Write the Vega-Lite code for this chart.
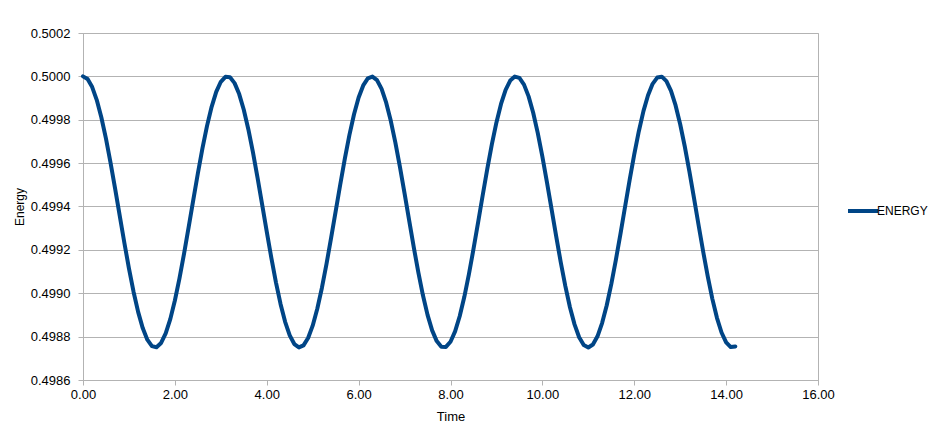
{
  "$schema": "https://vega.github.io/schema/vega-lite/v6.json",
  "width": 735,
  "height": 347,
  "autosize": {"type": "none"},
  "padding": {"left": 83, "top": 33, "right": 120, "bottom": 61},
  "background": "white",
  "config": {
    "font": "Liberation Sans",
    "view": {"stroke": "#b3b3b3", "strokeWidth": 1},
    "axis": {
      "labelFont": "Liberation Sans",
      "titleFont": "Liberation Sans",
      "labelFontSize": 13,
      "titleFontSize": 13,
      "titleFontWeight": "normal",
      "labelColor": "#000000",
      "titleColor": "#000000",
      "domainColor": "#b3b3b3",
      "tickColor": "#b3b3b3",
      "gridColor": "#b3b3b3",
      "gridOpacity": 1,
      "tickSize": 5,
      "labelFlush": false,
      "labelOverlap": false
    }
  },
  "data": {
    "values": [
      {"t": 0.0, "E": 0.5000000}, {"t": 0.1, "E": 0.4999875}, {"t": 0.2, "E": 0.4999507}, {"t": 0.3, "E": 0.4998908},
      {"t": 0.4, "E": 0.4998104}, {"t": 0.5, "E": 0.4997127}, {"t": 0.6, "E": 0.4996015}, {"t": 0.7, "E": 0.4994812},
      {"t": 0.8, "E": 0.4993568}, {"t": 0.9, "E": 0.4992330}, {"t": 1.0, "E": 0.4991149}, {"t": 1.1, "E": 0.4990072},
      {"t": 1.2, "E": 0.4989141}, {"t": 1.3, "E": 0.4988394}, {"t": 1.4, "E": 0.4987861}, {"t": 1.5, "E": 0.4987563},
      {"t": 1.6, "E": 0.4987511}, {"t": 1.7, "E": 0.4987708}, {"t": 1.8, "E": 0.4988145}, {"t": 1.9, "E": 0.4988806},
      {"t": 2.0, "E": 0.4989665}, {"t": 2.1, "E": 0.4990686}, {"t": 2.2, "E": 0.4991829}, {"t": 2.3, "E": 0.4993049},
      {"t": 2.4, "E": 0.4994297}, {"t": 2.5, "E": 0.4995523}, {"t": 2.6, "E": 0.4996678}, {"t": 2.7, "E": 0.4997717},
      {"t": 2.8, "E": 0.4998597}, {"t": 2.9, "E": 0.4999285}, {"t": 3.0, "E": 0.4999751}, {"t": 3.1, "E": 0.4999978},
      {"t": 3.2, "E": 0.4999957}, {"t": 3.3, "E": 0.4999689}, {"t": 3.4, "E": 0.4999184}, {"t": 3.5, "E": 0.4998462},
      {"t": 3.6, "E": 0.4997552}, {"t": 3.7, "E": 0.4996491}, {"t": 3.8, "E": 0.4995320}, {"t": 3.9, "E": 0.4994087},
      {"t": 4.0, "E": 0.4992841}, {"t": 4.1, "E": 0.4991630}, {"t": 4.2, "E": 0.4990504}, {"t": 4.3, "E": 0.4989508},
      {"t": 4.4, "E": 0.4988681}, {"t": 4.5, "E": 0.4988055}, {"t": 4.6, "E": 0.4987657}, {"t": 4.7, "E": 0.4987502},
      {"t": 4.8, "E": 0.4987596}, {"t": 4.9, "E": 0.4987935}, {"t": 5.0, "E": 0.4988506}, {"t": 5.1, "E": 0.4989286},
      {"t": 5.2, "E": 0.4990244}, {"t": 5.3, "E": 0.4991344}, {"t": 5.4, "E": 0.4992541}, {"t": 5.5, "E": 0.4993778},
      {"t": 5.6, "E": 0.4995013}, {"t": 5.7, "E": 0.4996206}, {"t": 5.8, "E": 0.4997302}, {"t": 5.9, "E": 0.4998254},
      {"t": 6.0, "E": 0.4999024}, {"t": 6.1, "E": 0.4999582}, {"t": 6.2, "E": 0.4999908}, {"t": 6.3, "E": 0.4999991},
      {"t": 6.4, "E": 0.4999830}, {"t": 6.5, "E": 0.4999422}, {"t": 6.6, "E": 0.4998787}, {"t": 6.7, "E": 0.4997951},
      {"t": 6.8, "E": 0.4996948}, {"t": 6.9, "E": 0.4995818}, {"t": 7.0, "E": 0.4994605}, {"t": 7.1, "E": 0.4993358},
      {"t": 7.2, "E": 0.4992126}, {"t": 7.3, "E": 0.4990959}, {"t": 7.4, "E": 0.4989904}, {"t": 7.5, "E": 0.4989002},
      {"t": 7.6, "E": 0.4988289}, {"t": 7.7, "E": 0.4987794}, {"t": 7.8, "E": 0.4987536}, {"t": 7.9, "E": 0.4987526},
      {"t": 8.0, "E": 0.4987765}, {"t": 8.1, "E": 0.4988241}, {"t": 8.2, "E": 0.4988938}, {"t": 8.3, "E": 0.4989826},
      {"t": 8.4, "E": 0.4990871}, {"t": 8.5, "E": 0.4992030}, {"t": 8.6, "E": 0.4993258}, {"t": 8.7, "E": 0.4994506},
      {"t": 8.8, "E": 0.4995723}, {"t": 8.9, "E": 0.4996862}, {"t": 9.0, "E": 0.4997877}, {"t": 9.1, "E": 0.4998727},
      {"t": 9.2, "E": 0.4999379}, {"t": 9.3, "E": 0.4999806}, {"t": 9.4, "E": 0.4999992}, {"t": 9.5, "E": 0.4999929},
      {"t": 9.6, "E": 0.4999620}, {"t": 9.7, "E": 0.4999077}, {"t": 9.8, "E": 0.4998321}, {"t": 9.9, "E": 0.4997383},
      {"t": 10.0, "E": 0.4996301}, {"t": 10.1, "E": 0.4995116}, {"t": 10.2, "E": 0.4993877}, {"t": 10.3, "E": 0.4992633},
      {"t": 10.4, "E": 0.4991429}, {"t": 10.5, "E": 0.4990327}, {"t": 10.6, "E": 0.4989356}, {"t": 10.7, "E": 0.4988565},
      {"t": 10.8, "E": 0.4987972}, {"t": 10.9, "E": 0.4987613}, {"t": 11.0, "E": 0.4987500}, {"t": 11.1, "E": 0.4987636},
      {"t": 11.2, "E": 0.4988015}, {"t": 11.3, "E": 0.4988623}, {"t": 11.4, "E": 0.4989435}, {"t": 11.5, "E": 0.4990420},
      {"t": 11.6, "E": 0.4991542}, {"t": 11.7, "E": 0.4992742}, {"t": 11.8, "E": 0.4993988}, {"t": 11.9, "E": 0.4995224},
      {"t": 12.0, "E": 0.4996401}, {"t": 12.1, "E": 0.4997473}, {"t": 12.2, "E": 0.4998396}, {"t": 12.3, "E": 0.4999128},
      {"t": 12.4, "E": 0.4999657}, {"t": 12.5, "E": 0.4999945}, {"t": 12.6, "E": 0.4999986}, {"t": 12.7, "E": 0.4999778},
      {"t": 12.8, "E": 0.4999330}, {"t": 12.9, "E": 0.4998660}, {"t": 13.0, "E": 0.4997793}, {"t": 13.1, "E": 0.4996766},
      {"t": 13.2, "E": 0.4995618}, {"t": 13.3, "E": 0.4994396}, {"t": 13.4, "E": 0.4993148}, {"t": 13.5, "E": 0.4991924},
      {"t": 13.6, "E": 0.4990773}, {"t": 13.7, "E": 0.4989741}, {"t": 13.8, "E": 0.4988868}, {"t": 13.9, "E": 0.4988190},
      {"t": 14.0, "E": 0.4987734}, {"t": 14.1, "E": 0.4987517}, {"t": 14.2, "E": 0.4987549}
    ]
  },
  "transform": [{"calculate": "'ENERGY'", "as": "series"}],
  "mark": {"type": "line", "strokeWidth": 4, "strokeJoin": "round", "strokeCap": "round"},
  "encoding": {
    "x": {
      "field": "t",
      "type": "quantitative",
      "scale": {"domain": [0, 16], "nice": false, "zero": false},
      "axis": {
        "title": "Time",
        "values": [0, 2, 4, 6, 8, 10, 12, 14, 16],
        "format": ".2f",
        "grid": false,
        "labelPadding": 3,
        "titlePadding": 9
      }
    },
    "y": {
      "field": "E",
      "type": "quantitative",
      "scale": {"domain": [0.4986, 0.5002], "nice": false, "zero": false},
      "axis": {
        "title": "Energy",
        "values": [0.4986, 0.4988, 0.499, 0.4992, 0.4994, 0.4996, 0.4998, 0.5, 0.5002],
        "format": ".4f",
        "grid": true,
        "labelPadding": 8,
        "titlePadding": 4,
        "titleFontSize": 12
      }
    },
    "color": {
      "field": "series",
      "type": "nominal",
      "scale": {"range": ["#004586"]},
      "legend": {
        "title": null,
        "orient": "none",
        "legendX": 763,
        "legendY": 161,
        "padding": 0,
        "symbolType": "stroke",
        "symbolSize": 900,
        "symbolStrokeWidth": 4,
        "labelFont": "Liberation Sans",
        "labelFontSize": 12,
        "labelColor": "#000000",
        "labelOffset": -3
      }
    }
  }
}
